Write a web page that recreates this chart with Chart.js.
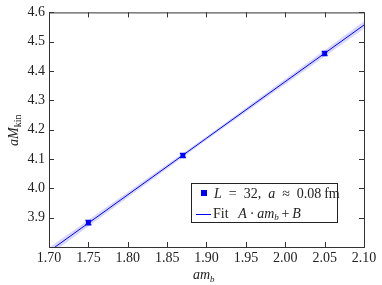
<!DOCTYPE html>
<html>
<head>
<meta charset="utf-8">
<script src="https://cdn.jsdelivr.net/npm/chart.js@4"></script>
<style>
  html, body { margin: 0; padding: 0; background: #fff; }
  #wrap { width: 382px; height: 285px; }
</style>
</head>
<body>
<div id="wrap"><canvas id="chart" width="382" height="285"></canvas></div>
<script>
// data
const amb = [1.75, 1.87, 2.05];
const aMkin = [3.883, 4.112, 4.460];
const aMkinErr = [0.007, 0.007, 0.007];

const fitX = [1.70, 1.90, 2.10];
const fitY = [3.785, 4.171, 4.557];
const bandLo = [3.772, 4.165, 4.544];
const bandHi = [3.798, 4.177, 4.570];

const xTicks = [1.70, 1.75, 1.80, 1.85, 1.90, 1.95, 2.00, 2.05, 2.10];
const yTicks = [3.8, 3.9, 4.0, 4.1, 4.2, 4.3, 4.4, 4.5, 4.6];

const SERIF = '"Liberation Serif", "DejaVu Serif", serif';
const BLUE = "#0000ff";
const AXIS = "#333333";

const toPts = (xs, ys) => xs.map((x, i) => ({ x: x, y: ys[i] }));

// error bars, inward ticks, frame, axis titles, legend
const extras = {
  id: "extras",
  afterDatasetsDraw(chart) {
    const ctx = chart.ctx;
    const xs = chart.scales.x, ys = chart.scales.y;
    const a = chart.chartArea;

    ctx.save();
    // error bars
    ctx.strokeStyle = BLUE;
    ctx.lineWidth = 1.5;
    amb.forEach((x, i) => {
      const px = xs.getPixelForValue(x);
      const top = ys.getPixelForValue(aMkin[i] + aMkinErr[i]);
      const bot = ys.getPixelForValue(aMkin[i] - aMkinErr[i]);
      ctx.beginPath();
      ctx.moveTo(px, top); ctx.lineTo(px, bot);
      ctx.moveTo(px - 3, top); ctx.lineTo(px + 3, top);
      ctx.moveTo(px - 3, bot); ctx.lineTo(px + 3, bot);
      ctx.stroke();
    });

    // frame
    ctx.strokeStyle = AXIS;
    ctx.lineWidth = 1;
    ctx.strokeRect(a.left + 0.5, a.top + 0.5, a.right - a.left, a.bottom - a.top);

    // inward ticks on all four sides
    ctx.beginPath();
    xTicks.forEach(v => {
      const px = Math.round(xs.getPixelForValue(v)) + 0.5;
      ctx.moveTo(px, a.bottom); ctx.lineTo(px, a.bottom - 5);
      ctx.moveTo(px, a.top); ctx.lineTo(px, a.top + 5);
    });
    yTicks.forEach(v => {
      const py = Math.round(ys.getPixelForValue(v)) + 0.5;
      ctx.moveTo(a.left, py); ctx.lineTo(a.left + 5, py);
      ctx.moveTo(a.right, py); ctx.lineTo(a.right - 5, py);
    });
    ctx.stroke();

    // x title: am_b
    ctx.fillStyle = "#222";
    ctx.textBaseline = "alphabetic";
    let cx = 193;
    ctx.font = "italic 14px " + SERIF;
    ctx.fillText("am", cx, 279);
    cx += ctx.measureText("am").width;
    ctx.font = "italic 9px " + SERIF;
    ctx.fillText("b", cx, 282);

    // y title: aM_kin (rotated)
    ctx.save();
    ctx.translate(18, 146);
    ctx.rotate(-Math.PI / 2);
    ctx.font = "italic 14px " + SERIF;
    ctx.fillText("aM", 0, 0);
    const w = ctx.measureText("aM").width;
    ctx.font = "10px " + SERIF;
    ctx.fillText("kin", w, 3);
    ctx.restore();

    // legend box
    const lx = 191, ly = 183, lw = 146, lh = 39;
    ctx.fillStyle = "#fff";
    ctx.fillRect(lx, ly, lw, lh);
    ctx.strokeStyle = "#222";
    ctx.strokeRect(lx + 0.5, ly + 0.5, lw, lh);

    ctx.fillStyle = BLUE;
    ctx.fillRect(201, 190, 6, 6);
    ctx.strokeStyle = BLUE;
    ctx.beginPath();
    ctx.moveTo(196, 214.5); ctx.lineTo(211, 214.5);
    ctx.stroke();

    const run = (parts, x, y) => {
      parts.forEach(p => {
        ctx.font = p[1] + SERIF;
        ctx.fillText(p[0], x, y + (p[2] || 0));
        x += ctx.measureText(p[0]).width;
      });
    };
    ctx.fillStyle = "#222";
    run([["L", "italic 14px "], ["\u2002=\u200232,\u2002", "14px "], ["a", "italic 14px "],
         ["\u2002\u2248\u20020.08\u2009fm", "14px "]], 214, 198);
    run([["Fit\u2002\u2009", "14px "], ["A", "italic 14px "], ["\u2009\u00b7\u2009", "14px "],
         ["am", "italic 14px "], ["b", "italic 9px ", 2], ["\u2009+\u2009", "14px "],
         ["B", "italic 14px "]], 213, 218);
    ctx.restore();
  }
};

new Chart(document.getElementById("chart"), {
  type: "scatter",
  data: {
    datasets: [
      {
        data: toPts(fitX, bandLo),
        showLine: true,
        borderWidth: 0,
        pointRadius: 0,
        fill: false,
        order: 3
      },
      {
        data: toPts(fitX, bandHi),
        showLine: true,
        borderWidth: 0,
        pointRadius: 0,
        backgroundColor: "rgba(110, 110, 255, 0.28)",
        fill: "-1",
        order: 2
      },
      {
        data: toPts(fitX, fitY),
        showLine: true,
        borderColor: BLUE,
        borderWidth: 1,
        pointRadius: 0,
        order: 1
      },
      {
        data: toPts(amb, aMkin),
        pointStyle: "rect",
        pointRadius: 3.4,
        backgroundColor: BLUE,
        borderColor: BLUE,
        borderWidth: 0,
        order: 0
      }
    ]
  },
  options: {
    responsive: false,
    animation: false,
    layout: { padding: { left: 0, right: 18, top: 11, bottom: 0 } },
    plugins: { legend: { display: false }, tooltip: { enabled: false } },
    scales: {
      x: {
        type: "linear",
        min: 1.70,
        max: 2.10,
        afterBuildTicks: s => { s.ticks = xTicks.map(v => ({ value: v })); },
        afterFit: s => { s.height = 38; },
        grid: { display: false, drawTicks: false },
        border: { display: false },
        ticks: {
          color: "#222",
          font: { family: SERIF, size: 14 },
          padding: 3,
          maxRotation: 0,
          callback: v => v.toFixed(2)
        }
      },
      y: {
        min: 3.8,
        max: 4.6,
        afterBuildTicks: s => { s.ticks = yTicks.map(v => ({ value: v })); },
        afterFit: s => { s.width = 49; },
        grid: { display: false, drawTicks: false },
        border: { display: false },
        ticks: {
          color: "#222",
          font: { family: SERIF, size: 14 },
          padding: 4,
          callback: v => (v === 3.8 ? "" : v.toFixed(1))
        }
      }
    }
  },
  plugins: [extras]
});
</script>
</body>
</html>
